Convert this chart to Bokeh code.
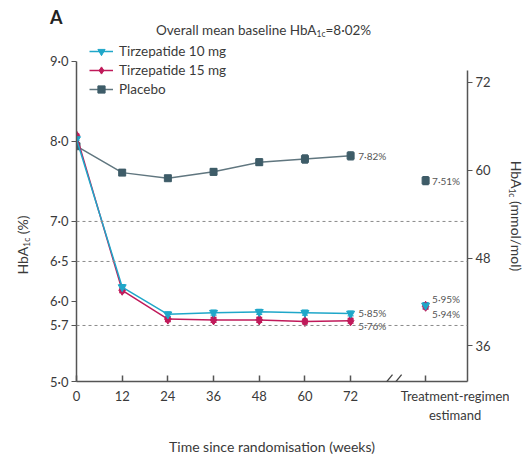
from bokeh.plotting import figure, ColumnDataSource
from bokeh.models import (Range1d, LinearAxis, FixedTicker, Span, Legend,
                          LegendItem, Whisker, TeeHead, Arrow, Div)
from bokeh.layouts import row, column
from bokeh.core.properties import value
from bokeh.embed import file_html
from bokeh.resources import INLINE

# ---------------- data ----------------
weeks = [0, 12, 24, 36, 48, 60, 72]
tirz10 = [8.03, 6.18, 5.84, 5.86, 5.87, 5.86, 5.85]
tirz15 = [8.07, 6.14, 5.78, 5.77, 5.77, 5.75, 5.76]
placebo = [7.94, 7.61, 7.54, 7.62, 7.74, 7.78, 7.82]
err10 = [0.02, 0.03, 0.03, 0.03, 0.03, 0.03, 0.03]
err15 = [0.02, 0.03, 0.03, 0.03, 0.03, 0.03, 0.03]
errpl = [0.02, 0.03, 0.03, 0.04, 0.04, 0.05, 0.05]

estimand_week = 91.7          # x position of the treatment-regimen estimand
estimand_label_pos = 99.8     # its two-line tick label sits to the right of it
est10, est15, estpl = 5.95, 5.94, 7.51
esterr10, esterr15, esterrpl = 0.035, 0.035, 0.05

left_ticks = [5.0, 5.7, 6.0, 6.5, 7.0, 8.0, 9.0]
right_ticks = [36, 48, 60, 72]
ref_lines = [7.0, 6.5, 5.7]

C10 = "#1fa7c9"
C15 = "#c01a5a"
CPL = "#3e5c68"
CPL_LINE = "#60767f"
TXT = "#3a3a3a"
AX = "#555555"
FONT = "Lato"

# ---------------- layout geometry ----------------
W, H = 529, 457
TOP_H = 40
LEFT_W = 40
RIGHT_W = 20
FIG_W = W - LEFT_W - RIGHT_W
FIG_H = H - TOP_H
BL, BR, BB = 36, 42, 74
PX_PER_UNIT = 322 / 4.0
XMAX = 102.7
YMIN = 5.0
fw = FIG_W - BL - BR
fh = FIG_H - BB
YTOP = YMIN + fh / PX_PER_UNIT


def mm(v):
    return v * 10.929 - 23.5


def dy(py):  # page y pixel -> data value
    return YTOP - (py - TOP_H) / PX_PER_UNIT


p = figure(width=FIG_W, height=FIG_H, output_backend="svg", toolbar_location=None,
           x_range=Range1d(0, XMAX), y_range=Range1d(YMIN, YTOP),
           min_border_left=BL, min_border_right=BR, min_border_top=0, min_border_bottom=BB,
           margin=0)
p.outline_line_color = None
p.grid.visible = False
p.background_fill_color = "white"
p.border_fill_color = "white"


def style_axis(a):
    a.minor_tick_line_color = None
    a.axis_line_width = 1.5
    a.axis_line_color = AX
    a.major_tick_line_color = AX
    a.major_label_text_font = FONT
    a.major_label_text_font_size = "13px"
    a.major_label_text_color = TXT


# left axis
ya = p.yaxis[0]
style_axis(ya)
ya.ticker = FixedTicker(ticks=left_ticks)
ya.bounds = (YMIN, 9.0)
ya.major_label_overrides = {t: f"{t:.1f}".replace(".", "·") for t in left_ticks}
ya.major_tick_in = 0
ya.major_tick_out = 5
ya.major_label_standoff = 3

# right axis (mmol/mol)
p.extra_y_ranges = {"mmol": Range1d(mm(YMIN), mm(YTOP))}
ra = LinearAxis(y_range_name="mmol")
style_axis(ra)
ra.ticker = FixedTicker(ticks=right_ticks)
ra.bounds = (mm(YMIN), mm(dy(70)))
ra.major_tick_in = 0
ra.major_tick_out = 5
ra.major_label_standoff = 3
p.add_layout(ra, "right")

# x axis: labels on major ticks (no marks), inward marks drawn as minor ticks
xa = p.xaxis[0]
style_axis(xa)
xa.ticker = FixedTicker(ticks=weeks + [estimand_label_pos],
                        minor_ticks=weeks + [estimand_week])
xa.major_label_overrides = {estimand_label_pos: "Treatment-regimen\nestimand"}
xa.major_tick_line_color = None
xa.major_tick_in = 0
xa.major_tick_out = 0
xa.minor_tick_line_color = AX
xa.minor_tick_line_width = 1.5
xa.minor_tick_in = 6
xa.minor_tick_out = 0
xa.major_label_standoff = 6
xa.axis_label = "Time since randomisation (weeks)"
xa.axis_label_text_font = FONT
xa.axis_label_text_font_size = "14px"
xa.axis_label_text_font_style = "normal"
xa.axis_label_text_color = TXT
xa.axis_label_standoff = 12

# reference dotted lines
for v in ref_lines:
    p.add_layout(Span(location=v, dimension="width", line_color="#8a8a8a",
                      line_dash="3 3", line_width=1))


def series(ys, errs, color, lcolor, marker, size, est, esterr):
    src = ColumnDataSource(dict(x=weeks, y=ys,
                                lo=[a - e for a, e in zip(ys, errs)],
                                hi=[a + e for a, e in zip(ys, errs)]))
    ln = p.line("x", "y", source=src, line_color=lcolor, line_width=1.5)
    p.add_layout(Whisker(source=src, base="x", lower="lo", upper="hi",
                         line_color=color, line_width=1.3,
                         upper_head=TeeHead(size=6, line_color=color, line_width=1.3),
                         lower_head=TeeHead(size=6, line_color=color, line_width=1.3)))
    sc = p.scatter("x", "y", source=src, marker=marker, size=size,
                   fill_color=color, line_color=color)
    esrc = ColumnDataSource(dict(x=[estimand_week], y=[est], lo=[est - esterr], hi=[est + esterr]))
    p.add_layout(Whisker(source=esrc, base="x", lower="lo", upper="hi",
                         line_color=color, line_width=1.3,
                         upper_head=TeeHead(size=6, line_color=color, line_width=1.3),
                         lower_head=TeeHead(size=6, line_color=color, line_width=1.3)))
    p.scatter("x", "y", source=esrc, marker=marker, size=size,
              fill_color=color, line_color=color)
    return ln, sc


lp, sp = series(placebo, errpl, CPL, CPL_LINE, "square", 7, estpl, esterrpl)
l15, s15 = series(tirz15, err15, C15, C15, "diamond", 10, est15, esterr15)
l10, s10 = series(tirz10, err10, C10, C10, "inverted_triangle", 8, est10, esterr10)

# value labels
lab = ColumnDataSource(dict(
    x=[74.0, 93.4, 74.0, 74.0, 93.4, 93.4],
    y=[placebo[-1], estpl, tirz10[-1], tirz15[-1], est10, est15],
    text=["7·82%", "7·51%", "5·85%", "5·76%", "5·95%", "5·94%"],
    yo=[0, 0, 0, 5, -6, 8],
))
p.text("x", "y", text="text", source=lab, y_offset="yo", text_font=value(FONT),
       text_font_size="10px", text_color="#555555", text_baseline="middle", text_align="left")

# axis break marks
for x0 in (79.4, 81.8):
    p.add_layout(Arrow(end=None, x_start=x0, y_start=dy(393), x_end=x0 + 3.6, y_end=dy(376),
                       line_color="#444444", line_width=1.3))

# legend
legend = Legend(items=[LegendItem(label="Tirzepatide 10 mg", renderers=[l10, s10]),
                       LegendItem(label="Tirzepatide 15 mg", renderers=[l15, s15]),
                       LegendItem(label="Placebo", renderers=[lp, sp])],
                location=(13, fh - (100 - TOP_H)), border_line_color=None,
                background_fill_alpha=0, padding=0, margin=0, spacing=1,
                glyph_width=24, glyph_height=18, label_height=18, label_standoff=6,
                label_text_font=FONT, label_text_font_size="13.5px", label_text_color=TXT)
p.add_layout(legend, "center")

# ---------------- heading and axis titles (HTML, for the 1c subscripts) ----------------
SUB = '<sub style="font-size:8.5px;vertical-align:-2px;">1c</sub>'
BASE = f"position:absolute;white-space:nowrap;font-family:{FONT};color:{TXT};"

top = Div(width=W, height=TOP_H, margin=0, text=(
    f'<div style="position:relative;width:{W}px;height:{TOP_H}px;">'
    f'<span style="{BASE}left:50px;top:5px;font-size:18px;font-weight:bold;color:#222;">A</span>'
    f'<span style="{BASE}left:156px;top:21px;font-size:13.5px;">Overall mean baseline HbA{SUB}=8·02%</span>'
    '</div>'))

left = Div(width=LEFT_W, height=FIG_H, margin=0, text=(
    f'<div style="position:relative;width:{LEFT_W}px;height:{FIG_H}px;">'
    f'<span style="{BASE}left:23px;top:205px;font-size:14px;'
    'transform:translate(-50%,-50%) rotate(-90deg);">'
    f'HbA{SUB} (%)</span></div>'))

right = Div(width=RIGHT_W, height=FIG_H, margin=0, text=(
    f'<div style="position:relative;width:{RIGHT_W}px;height:{FIG_H}px;">'
    f'<span style="{BASE}left:7px;top:176px;font-size:14px;'
    'transform:translate(-50%,-50%) rotate(90deg);">'
    f'HbA{SUB} (mmol/mol)</span></div>'))

layout = column(top, row(left, p, right, spacing=0, margin=0), spacing=0, margin=0)

open("out.html", "w").write(file_html(layout, INLINE))
